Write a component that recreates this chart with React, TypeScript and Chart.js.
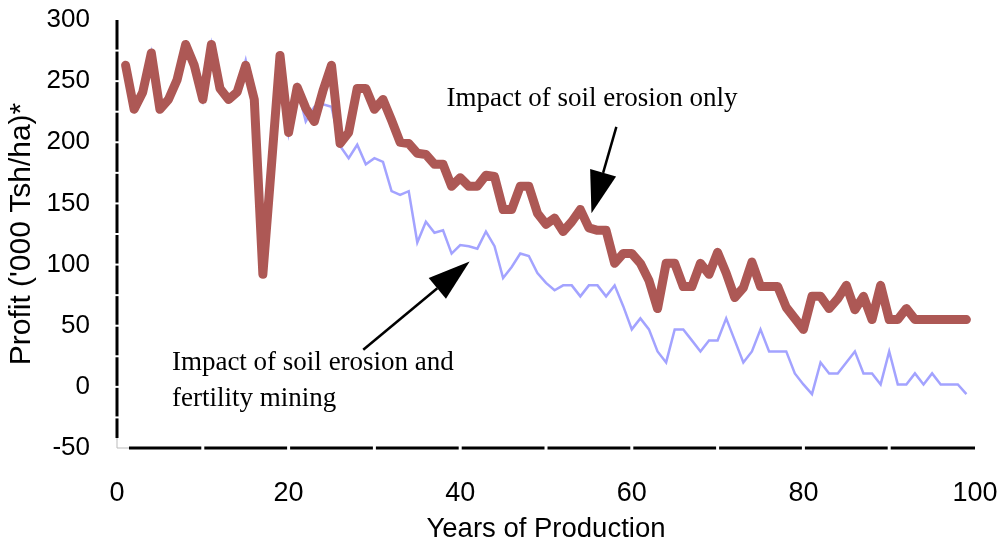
import React, { useEffect, useRef } from 'react';
import { Chart, registerables } from 'chart.js';

Chart.register(...registerables);

// ---------- data ----------
const YEARS = [
  1, 2, 3, 4, 5, 6, 7, 8, 9, 10, 11, 12, 13, 14, 15, 16, 17, 18, 19, 20,
  21, 22, 23, 24, 25, 26, 27, 28, 29, 30, 31, 32, 33, 34, 35, 36, 37, 38, 39, 40,
  41, 42, 43, 44, 45, 46, 47, 48, 49, 50, 51, 52, 53, 54, 55, 56, 57, 58, 59, 60,
  61, 62, 63, 64, 65, 66, 67, 68, 69, 70, 71, 72, 73, 74, 75, 76, 77, 78, 79, 80,
  81, 82, 83, 84, 85, 86, 87, 88, 89, 90, 91, 92, 93, 94, 95, 96, 97, 98, 99,
];

const EROSION_ONLY = [
  263, 227, 241, 273, 227, 235, 251, 280, 263, 235, 280, 244, 235, 241, 263, 235, 92, 181, 271, 208,
  245, 228, 217, 242, 263, 199, 208, 244, 244, 227, 235, 218, 200, 199, 191, 190, 182, 182, 164, 171,
  164, 164, 173, 172, 145, 145, 164, 164, 142, 133, 138, 127, 135, 145, 130, 128, 128, 101, 109, 109,
  101, 87, 64, 101, 101, 82, 82, 101, 92, 110, 93, 73, 81, 102, 82, 82, 82, 65, 56, 47,
  74, 74, 64, 72, 83, 63, 74, 55, 83, 55, 55, 64, 55, 55, 55, 55, 55, 55, 55,
];

const EROSION_AND_MINING = [
  263, 227, 241, 273, 227, 235, 251, 280, 263, 235, 280, 244, 235, 241, 267, 235, 92, 181, 274, 208,
  245, 217, 229, 231, 229, 197, 187, 198, 182, 187, 184, 160, 157, 160, 118, 135, 126, 128, 109, 116,
  115, 113, 127, 115, 89, 98, 109, 107, 93, 85, 79, 83, 83, 74, 83, 83, 74, 83, 66, 47,
  56, 47, 29, 20, 47, 47, 38, 29, 38, 38, 56, 38, 20, 29, 47, 29, 29, 29, 11, 2,
  -6, 20, 11, 11, 20, 29, 11, 11, 2, 29, 2, 2, 11, 2, 11, 2, 2, 2, -6,
];

const SERIES_NAMES = ['Impact of soil erosion only', 'Impact of soil erosion and fertility mining'];
const X_TITLE = 'Years of Production';
const Y_TITLE = "Profit ('000 Tsh/ha)*";
const X_MIN = 0;
const X_MAX = 100;
const X_STEP = 20;
const Y_MIN = -50;
const Y_MAX = 300;
const Y_STEP = 50;

const NOTE_TOP = ['Impact of soil erosion only'];
const NOTE_BOTTOM = ['Impact of soil erosion and', 'fertility mining'];

const RED = '#AD5855';
const BLUE = '#A3A3FF';
const SANS = '"Liberation Sans", Arial, sans-serif';

// target plot box in the 1002x546 frame
const AREA = { left: 117, top: 20, right: 975, bottom: 448 };

// ---------- plugins ----------
const axisPlugin = {
  id: 'axisLines',
  afterDraw(chart: any) {
    const { ctx, scales } = chart;
    const x = scales.x;
    const y = scales.y;
    const x0 = x.left;
    const yb = y.bottom;
    ctx.save();
    ctx.strokeStyle = '#000';
    ctx.lineWidth = 3;
    ctx.lineCap = 'butt';
    ctx.beginPath();
    ctx.moveTo(x0, y.top);
    ctx.lineTo(x0, yb - 10);
    ctx.stroke();
    ctx.beginPath();
    ctx.moveTo(x0 + 12, yb);
    ctx.lineTo(x.right, yb);
    ctx.stroke();
    ctx.strokeStyle = '#bbbbbb';
    ctx.lineWidth = 1;
    ctx.beginPath();
    ctx.moveTo(x0, yb - 10);
    ctx.lineTo(x0, yb);
    ctx.lineTo(x0 + 12, yb);
    ctx.stroke();
    ctx.fillStyle = '#fff';
    for (let v = Y_MIN + 25; v < Y_MAX; v += 25) {
      const py = y.getPixelForValue(v);
      ctx.fillRect(x0 - 3, py - 1, 6, 2);
    }
    for (let v = X_MIN + 10; v < X_MAX; v += 10) {
      const px = x.getPixelForValue(v);
      ctx.fillRect(px - 1.5, yb - 3, 3, 6);
    }
    ctx.restore();
  },
};

function drawArrow(ctx: any, x1: number, y1: number, x2: number, y2: number) {
  const dx = x2 - x1;
  const dy = y2 - y1;
  const len = Math.sqrt(dx * dx + dy * dy);
  const ux = dx / len;
  const uy = dy / len;
  const headLen = 42;
  const headHalf = 13.5;
  const bx = x2 - ux * headLen;
  const by = y2 - uy * headLen;
  ctx.beginPath();
  ctx.moveTo(x1, y1);
  ctx.lineTo(bx, by);
  ctx.lineWidth = 2.5;
  ctx.strokeStyle = '#000';
  ctx.stroke();
  ctx.beginPath();
  ctx.moveTo(x2, y2);
  ctx.lineTo(bx - uy * headHalf, by + ux * headHalf);
  ctx.lineTo(bx + uy * headHalf, by - ux * headHalf);
  ctx.closePath();
  ctx.fillStyle = '#000';
  ctx.fill();
}

const notesPlugin = {
  id: 'notes',
  afterDraw(chart: any) {
    const { ctx, scales } = chart;
    const x = scales.x;
    const y = scales.y;
    const px = (v: number) => x.getPixelForValue(v);
    const py = (v: number) => y.getPixelForValue(v);
    ctx.save();
    ctx.font = '27px "Liberation Serif", "Times New Roman", serif';
    ctx.fillStyle = '#000';
    ctx.textAlign = 'left';
    ctx.textBaseline = 'alphabetic';
    ctx.fillText(NOTE_TOP[0], px(38.4), py(229.8));
    ctx.fillText(NOTE_BOTTOM[0], px(6.4), py(13.9));
    ctx.fillText(NOTE_BOTTOM[1], px(6.4), py(-15.5));
    drawArrow(ctx, px(58.2), py(212.6), px(55.3), py(142.0));
    drawArrow(ctx, px(28.7), py(30.3), px(41.1), py(102.5));
    ctx.restore();
  },
};

export default function App() {
  const canvasRef = useRef<HTMLCanvasElement | null>(null);

  useEffect(() => {
    document.body.style.margin = '0';
    const canvas = canvasRef.current;
    if (!canvas) return;
    const padding = { top: 20, right: 27, left: 0, bottom: 0 };
    const chart = new Chart(canvas, {
      type: 'line',
      data: {
        datasets: [
          {
            label: SERIES_NAMES[0],
            data: YEARS.map((yr, i) => ({ x: yr, y: EROSION_ONLY[i] })),
            borderColor: RED,
            backgroundColor: RED,
            borderWidth: 9,
            borderJoinStyle: 'round',
            borderCapStyle: 'round',
            pointRadius: 0,
            tension: 0,
            fill: false,
          },
          {
            label: SERIES_NAMES[1],
            data: YEARS.map((yr, i) => ({ x: yr, y: EROSION_AND_MINING[i] })),
            borderColor: BLUE,
            backgroundColor: BLUE,
            borderWidth: 2.5,
            borderJoinStyle: 'miter',
            pointRadius: 0,
            tension: 0,
            fill: false,
          },
        ],
      },
      options: {
        animation: false,
        responsive: false,
        maintainAspectRatio: false,
        layout: { padding },
        plugins: {
          legend: { display: false },
          tooltip: { enabled: false },
        },
        scales: {
          x: {
            type: 'linear',
            min: X_MIN,
            max: X_MAX,
            ticks: {
              stepSize: X_STEP,
              color: '#000',
              padding: 2,
              maxRotation: 0,
              font: { family: SANS, size: 27 },
            },
            grid: { display: false, drawTicks: true, tickLength: 27 },
            border: { display: false },
            title: {
              display: true,
              text: X_TITLE,
              color: '#000',
              padding: { top: 0, bottom: 0 },
              font: { family: SANS, size: 27.5 },
            },
            afterFit: (s: any) => {
              s.height = 98;
            },
          },
          y: {
            type: 'linear',
            min: Y_MIN,
            max: Y_MAX,
            ticks: {
              stepSize: Y_STEP,
              color: '#000',
              padding: 2,
              font: { family: SANS, size: 26 },
            },
            grid: { display: false, drawTicks: true, tickLength: 25 },
            border: { display: false },
            title: {
              display: true,
              text: Y_TITLE,
              color: '#000',
              padding: { top: 4, bottom: 0 },
              font: { family: SANS, size: 30 },
            },
            afterFit: (s: any) => {
              s.width = 117;
            },
          },
        },
      },
      plugins: [axisPlugin, notesPlugin],
    } as any);

    // nudge the layout padding so the plot box lands on the target box
    const ca = chart.chartArea;
    if (ca) {
      const dTop = ca.top - AREA.top;
      const dRight = AREA.right - ca.right;
      if (Math.abs(dTop) > 0.5 || Math.abs(dRight) > 0.5) {
        padding.top = Math.max(0, padding.top - dTop);
        padding.right = Math.max(0, padding.right - dRight);
        (chart.options as any).layout.padding = { ...padding };
        chart.update();
      }
    }

    return () => chart.destroy();
  }, []);

  return (
    <div style={{ width: 1002, height: 546, position: 'relative', background: '#fff' }}>
      <canvas ref={canvasRef} width={1002} height={546} style={{ display: 'block' }} />
    </div>
  );
}
